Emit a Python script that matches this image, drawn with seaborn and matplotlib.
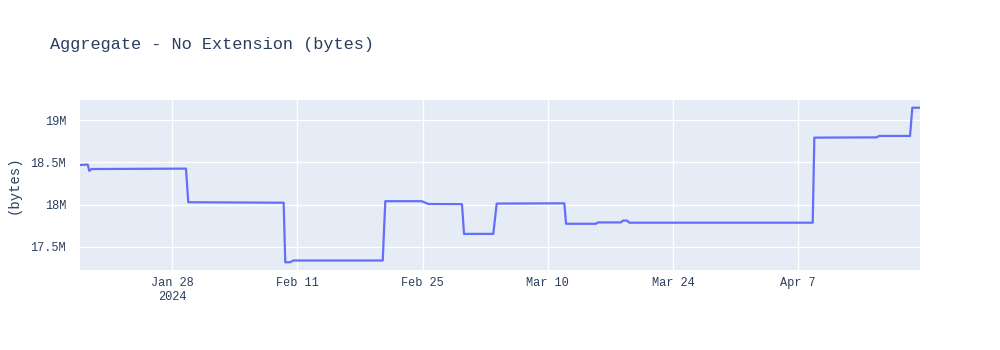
import matplotlib
matplotlib.use("Agg")
import matplotlib.pyplot as plt
from matplotlib.ticker import FuncFormatter
import seaborn as sns
import pandas as pd

# ---- data ----
timestamps = [
    "2024-01-17 17:15", "2024-01-18 14:00", "2024-01-18 18:15", "2024-01-19 00:45",
    "2024-01-29 13:30", "2024-01-29 19:40", "2024-02-09 11:30", "2024-02-09 15:50",
    "2024-02-10 04:30", "2024-02-10 13:30", "2024-02-20 13:15", "2024-02-20 20:10",
    "2024-02-24 21:50", "2024-02-25 15:40", "2024-02-29 09:50", "2024-02-29 15:20",
    "2024-03-03 21:50", "2024-03-04 07:00", "2024-03-11 20:25", "2024-03-12 01:00",
    "2024-03-15 09:20", "2024-03-15 14:00", "2024-03-18 03:40", "2024-03-18 09:50",
    "2024-03-18 20:40", "2024-03-19 02:40", "2024-04-08 14:40", "2024-04-08 19:00",
    "2024-04-15 18:15", "2024-04-16 00:30", "2024-04-19 11:45", "2024-04-19 17:45",
    "2024-04-20 14:25",
]
bytes_values = [
    18.470e6, 18.475e6, 18.400e6, 18.422e6,
    18.427e6, 18.028e6, 18.022e6, 17.315e6,
    17.315e6, 17.336e6, 17.336e6, 18.040e6,
    18.040e6, 18.007e6, 18.005e6, 17.652e6,
    17.652e6, 18.012e6, 18.015e6, 17.772e6,
    17.772e6, 17.788e6, 17.788e6, 17.810e6,
    17.810e6, 17.785e6, 17.785e6, 18.795e6,
    18.798e6, 18.815e6, 18.815e6, 19.150e6,
    19.150e6,
]
x_tick_dates = ["2024-01-28", "2024-02-11", "2024-02-25", "2024-03-10", "2024-03-24", "2024-04-07"]
x_tick_labels = ["Jan 28\n2024", "Feb 11", "Feb 25", "Mar 10", "Mar 24", "Apr 7"]
y_ticks = [17.5e6, 18.0e6, 18.5e6, 19.0e6]

title_text = "Aggregate - No Extension (bytes)"
y_label = "(bytes)"

# ---- styling ----
sns.set_style("darkgrid", {"axes.facecolor": "#E5ECF6", "grid.color": "white"})
plt.rcParams["font.family"] = ["Liberation Mono", "DejaVu Sans Mono"]
text_color = "#2a3f5f"

df = pd.DataFrame({"time": pd.to_datetime(timestamps), "bytes": bytes_values})

fig = plt.figure(figsize=(10, 3.5), dpi=100)
ax = fig.add_axes([0.08, 1 - 270 / 350, 0.84, 170 / 350])
sns.lineplot(data=df, x="time", y="bytes", ax=ax, color="#636EFA", linewidth=1.6)

ax.set_xlim(df["time"].min(), df["time"].max())
ymin, ymax = min(bytes_values), max(bytes_values)
pad = (ymax - ymin) * 0.05
ax.set_ylim(ymin - pad, ymax + pad)

ax.set_xticks(pd.to_datetime(x_tick_dates))
ax.set_xticklabels(x_tick_labels)
ax.set_yticks(y_ticks)
ax.yaxis.set_major_formatter(FuncFormatter(lambda v, p: f"{v/1e6:g}M"))

ax.grid(True, color="white", linewidth=1)
for s in ax.spines.values():
    s.set_visible(False)
ax.tick_params(axis="x", length=0, labelsize=8.6, colors=text_color, pad=5)
ax.tick_params(axis="y", length=0, labelsize=8.6, colors=text_color, pad=10)
ax.set_xlabel("")
ax.set_ylabel(y_label, fontsize=10, color=text_color, labelpad=7)

fig.text(0.05, 1 - 45 / 350, title_text, fontsize=12.2, color=text_color,
         ha="left", va="center")

fig.savefig("out.png", dpi=100, facecolor="white")
